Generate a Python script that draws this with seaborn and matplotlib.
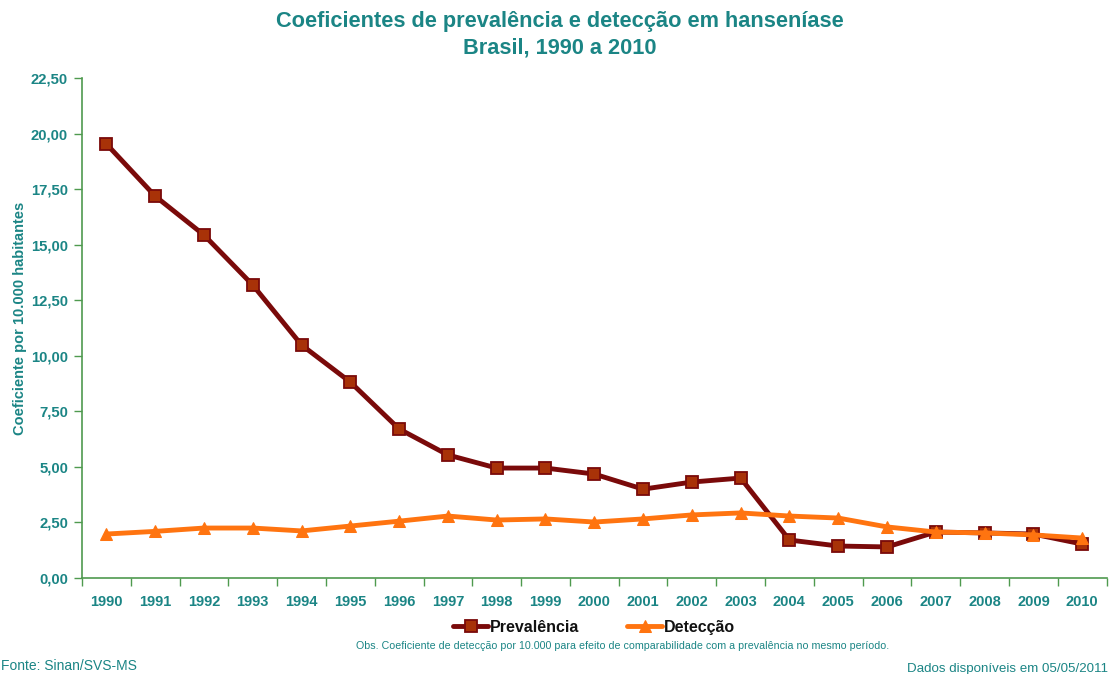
import matplotlib
matplotlib.use("Agg")
import matplotlib.pyplot as plt
import seaborn as sns
import pandas as pd
import numpy as np
from matplotlib.ticker import FixedLocator, FuncFormatter

years = [str(y) for y in range(1990, 2011)]
prevalencia = [19.54, 17.19, 15.44, 13.19, 10.49, 8.82, 6.71, 5.54, 4.95, 4.95,
               4.68, 4.00, 4.32, 4.50, 1.71, 1.44, 1.40, 2.07, 2.03, 1.98, 1.53]
deteccao = [1.98, 2.10, 2.25, 2.25, 2.12, 2.34, 2.56, 2.79, 2.61, 2.66,
            2.52, 2.66, 2.84, 2.93, 2.79, 2.70, 2.30, 2.07, 2.03, 1.94, 1.80]
y_ticks = [0, 2.5, 5, 7.5, 10, 12.5, 15, 17.5, 20, 22.5]

sns.set_theme(style="white")
plt.rcParams['font.family'] = ['Liberation Sans', 'DejaVu Sans']

TEAL = "#1b8585"
AXIS = "#4f9a4f"
PREV_LINE = "#7a0a0a"
PREV_FILL = "#a83208"
DET = "#ff7410"

df = pd.DataFrame({"Ano": years * 2,
                   "valor": prevalencia + deteccao,
                   "serie": ["Prevalência"] * len(years) + ["Detecção"] * len(years)})

fig = plt.figure(figsize=(11.2, 6.74), dpi=100)
ax = fig.add_axes([0.0732, 0.1424, 0.9148, 0.7416])

sns.lineplot(data=df[df.serie == "Prevalência"], x="Ano", y="valor", ax=ax,
             color=PREV_LINE, lw=3.5, marker="s", markersize=8,
             markerfacecolor=PREV_FILL, markeredgecolor=PREV_LINE, markeredgewidth=1.3,
             label="Prevalência", zorder=3)
sns.lineplot(data=df[df.serie == "Detecção"], x="Ano", y="valor", ax=ax,
             color=DET, lw=3.5, marker="^", markersize=9,
             markerfacecolor=DET, markeredgecolor=DET,
             label="Detecção", zorder=4)

ax.set_xlim(-0.5, len(years) - 0.5)
ax.set_ylim(0, 22.5)
ax.set_yticks(y_ticks)
ax.yaxis.set_major_formatter(FuncFormatter(lambda v, p: f"{v:.2f}".replace(".", ",")))
ax.set_xticks(range(len(years)))
ax.set_xticklabels(years)
ax.xaxis.set_minor_locator(FixedLocator(np.arange(-0.5, len(years), 1.0)))
ax.tick_params(axis="x", which="major", length=0, pad=12, labelsize=10.5, labelcolor=TEAL)
ax.tick_params(axis="x", which="minor", length=6, width=1, color=AXIS, direction="out", bottom=True)
ax.tick_params(axis="y", which="major", length=6, width=1, color=AXIS, direction="out", left=True,
               labelsize=10.7, labelcolor=TEAL, pad=4)
for lab in ax.get_xticklabels() + ax.get_yticklabels():
    lab.set_fontweight("bold")

for s in ["top", "right"]:
    ax.spines[s].set_visible(False)
for s in ["left", "bottom"]:
    ax.spines[s].set_color(AXIS)
    ax.spines[s].set_linewidth(1.2)
ax.grid(False)
ax.set_xlabel("")
ax.set_ylabel("")
fig.text(0.018, 1 - 318 / 674, "Coeficiente por 10.000 habitantes", rotation=90,
         ha="center", va="center", color=TEAL, fontsize=10.5, fontweight="bold")

leg = ax.legend(loc="upper center", bbox_to_anchor=(0.5, -0.055), ncol=2, frameon=False,
                prop={"size": 11.5, "weight": "bold"}, handlelength=2.2, columnspacing=3.0,
                handletextpad=0.1)
for t in leg.get_texts():
    t.set_color("#111111")

fig.text(0.5, 0.968, "Coeficientes de prevalência e detecção em hanseníase",
         ha="center", va="center", fontsize=15.7, fontweight="bold", color=TEAL)
fig.text(0.5, 0.929, "Brasil, 1990 a 2010",
         ha="center", va="center", fontsize=15.7, fontweight="bold", color=TEAL)
fig.text(0.556, 0.041, "Obs. Coeficiente de detecção por 10.000 para efeito de comparabilidade com a prevalência no mesmo período.",
         ha="center", va="center", fontsize=7.7, color=TEAL)
fig.text(0.001, 0.012, "Fonte: Sinan/SVS-MS", ha="left", va="center", fontsize=10, color=TEAL)
fig.text(0.989, 0.008, "Dados disponíveis em 05/05/2011", ha="right", va="center", fontsize=9.6, color=TEAL)

fig.savefig("out.png", dpi=100, facecolor="white")
